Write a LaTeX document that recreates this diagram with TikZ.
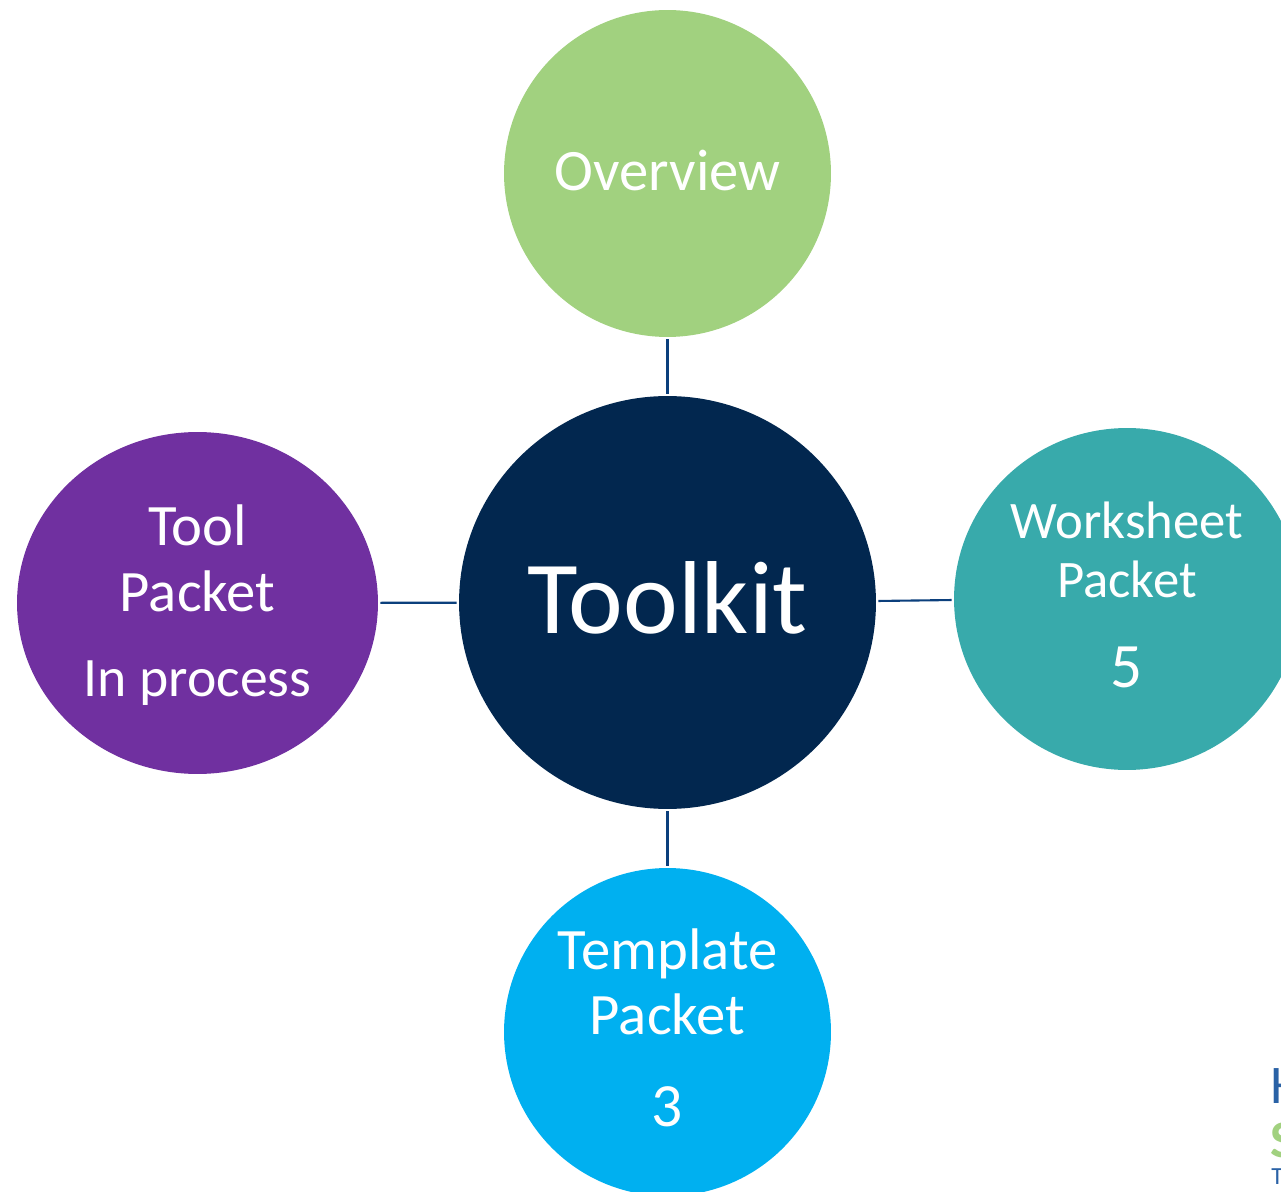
\documentclass[tikz,border=0pt]{standalone}
\usepackage{fontspec}
\setmainfont{Carlito}
\usetikzlibrary{shapes.geometric}
\definecolor{overviewgreen}{HTML}{A1D17F}
\definecolor{toolkitnavy}{HTML}{02274F}
\definecolor{toolpurple}{HTML}{7030A0}
\definecolor{worksheetteal}{HTML}{38AAAB}
\definecolor{templateblue}{HTML}{00B0F0}
\definecolor{linkblue}{HTML}{0B3F7C}
\definecolor{logoblue}{HTML}{2A62A6}
\tikzset{
	hub/.style={ellipse, inner sep=0pt},
	hubtext/.style={inner sep=0pt, text=white, align=center, font=\fontsize{33.4}{37}\selectfont},
	link/.style={draw=linkblue, line width=1.2pt, shorten >=1.2pt, shorten <=1.2pt},
}

\begin{document}
\begin{tikzpicture}[x=0.02cm, y=-0.02cm]
			%%%%% frame %%%%%
			\useasboundingbox (0, 0) rectangle (1281, 1192);
			
			%%%%% circles %%%%%
			\node[hub, fill=toolkitnavy, minimum width=8.34cm, minimum height=8.26cm,
				label={[hubtext, yshift=0.1cm, font=\fontsize{59}{66}\selectfont]center:Toolkit}] (toolkit) at (667.5, 602.5) {};
			\node[hub, fill=overviewgreen, minimum width=6.54cm, minimum height=6.54cm,
				label={[hubtext, yshift=0.06cm]center:Overview}] (overview) at (667.5, 173.5) {};
			\node[hub, fill=toolpurple, minimum width=7.22cm, minimum height=6.84cm,
				label={[hubtext, font=\fontsize{33.4}{37.5}\selectfont, yshift=-0.04cm]center:{Tool\\Packet\\[11.1pt]{\fontsize{31.7}{37}\selectfont In process}}}] (tool) at (197.5, 603) {};
			\node[hub, fill=worksheetteal, minimum width=6.92cm, minimum height=6.84cm,
				label={[hubtext, font=\fontsize{30}{33.5}\selectfont, yshift=0.08cm]center:{Worksheet\\Packet\\[17.6pt]{\fontsize{36}{33.5}\selectfont 5}}}] (worksheet) at (1127, 599) {};
			\node[hub, fill=templateblue, minimum width=6.54cm, minimum height=6.56cm,
				label={[hubtext, yshift=0.08cm]center:{Template\\Packet\\[15.7pt]{\fontsize{35}{37}\selectfont 3}}}] (template) at (667.5, 1032) {};
			
			%%%%% links %%%%%
			\draw[link] (overview) -- (toolkit);
			\draw[link] (toolkit) -- (template);
			\draw[link] (tool) -- (toolkit);
			\draw[link] ([yshift=0.03cm]toolkit.east) -- ([yshift=-0.02cm]worksheet.west);
			
			%%%%% cut off logo %%%%%
			\node[anchor=base west, inner sep=0pt, text=logoblue, font=\fontsize{31}{31}\selectfont] (logoh) at (1270, 1103) {H};
			\node[anchor=base west, inner sep=0pt, text=overviewgreen, font=\fontsize{30}{30}\bfseries\selectfont] (logos) at (1270, 1157) {S};
			\node[anchor=base west, inner sep=0pt, text=logoblue, font=\fontsize{14}{14}\selectfont] (logot) at (1271, 1184) {T};
		\end{tikzpicture}
\end{document}
